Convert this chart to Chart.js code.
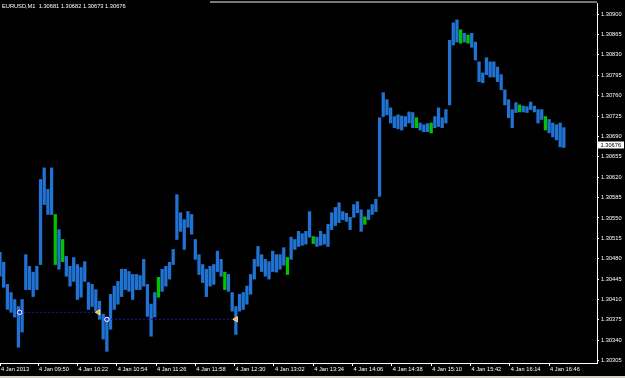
<!DOCTYPE html>
<html>
<head>
<meta charset="utf-8">
<script src="https://cdn.jsdelivr.net/npm/chart.js@4.4.1/dist/chart.umd.min.js"></script>
<style>
html, body { margin: 0; padding: 0; background: #000; }
#wrap { width: 625px; height: 378px; position: relative; }
</style>
</head>
<body>
<div id="wrap"><canvas id="chart" width="625" height="378"></canvas></div>
<script>
const SYMBOL = 'EURUSD,M1';
const lastOHLC = [1.30681, 1.30682, 1.30673, 1.30676];
const FONT = '"Liberation Sans", Arial, sans-serif';

// minutes after 09:00 of the first bar, one bar every 3 minutes
const START_MIN = 19;
const BAR_STEP = 3;

const highs = [
    1.30491,1.30474,1.30436,1.30422,1.30410,1.30398,1.30410,1.30487,1.30467,1.30457,
    1.30467,1.30616,1.30636,1.30599,1.30636,1.30556,1.30530,1.30513,1.30484,1.30467,
    1.30482,1.30470,1.30465,1.30475,1.30439,1.30436,1.30427,1.30407,1.30385,1.30376,
    1.30419,1.30433,1.30441,1.30462,1.30462,1.30458,1.30453,1.30453,1.30451,1.30479,
    1.30436,1.30402,1.30422,1.30448,1.30462,1.30467,1.30474,1.30496,1.30590,1.30559,
    1.30547,1.30561,1.30556,1.30513,1.30487,1.30470,1.30462,1.30467,1.30470,1.30493,
    1.30479,1.30457,1.30453,1.30422,1.30398,1.30419,1.30422,1.30433,1.30453,1.30479,
    1.30501,1.30487,1.30479,1.30475,1.30493,1.30487,1.30487,1.30499,1.30482,1.30517,
    1.30513,1.30527,1.30523,1.30527,1.30561,1.30518,1.30517,1.30527,1.30522,1.30539,
    1.30559,1.30568,1.30576,1.30561,1.30558,1.30551,1.30573,1.30578,1.30564,1.30552,
    1.30564,1.30573,1.30582,1.30722,1.30765,1.30753,1.30739,1.30724,1.30727,1.30725,
    1.30724,1.30732,1.30731,1.30722,1.30713,1.30710,1.30712,1.30713,1.30724,1.30739,
    1.30722,1.30736,1.30855,1.30885,1.30890,1.30873,1.30867,1.30864,1.30867,1.30852,
    1.30818,1.30799,1.30825,1.30818,1.30818,1.30809,1.30796,1.30770,1.30753,1.30736,
    1.30748,1.30744,1.30742,1.30741,1.30749,1.30742,1.30736,1.30736,1.30724,1.30719,
    1.30713,1.30710,1.30713,1.30705
];
const lows = [
    1.30450,1.30431,1.30393,1.30388,1.30380,1.30328,1.30354,1.30427,1.30427,1.30415,
    1.30427,1.30470,1.30573,1.30556,1.30556,1.30470,1.30462,1.30475,1.30450,1.30433,
    1.30441,1.30410,1.30414,1.30441,1.30393,1.30398,1.30390,1.30376,1.30342,1.30321,
    1.30359,1.30393,1.30402,1.30415,1.30427,1.30424,1.30410,1.30427,1.30427,1.30433,
    1.30381,1.30347,1.30380,1.30414,1.30424,1.30433,1.30445,1.30470,1.30513,1.30527,
    1.30496,1.30534,1.30522,1.30479,1.30453,1.30439,1.30415,1.30433,1.30436,1.30458,
    1.30450,1.30427,1.30424,1.30390,1.30350,1.30390,1.30393,1.30402,1.30419,1.30445,
    1.30467,1.30458,1.30450,1.30445,1.30458,1.30457,1.30462,1.30469,1.30453,1.30479,
    1.30496,1.30501,1.30503,1.30505,1.30517,1.30506,1.30501,1.30503,1.30505,1.30501,
    1.30530,1.30537,1.30542,1.30547,1.30544,1.30530,1.30551,1.30559,1.30527,1.30539,
    1.30547,1.30556,1.30561,1.30587,1.30724,1.30727,1.30713,1.30705,1.30703,1.30701,
    1.30707,1.30713,1.30705,1.30705,1.30701,1.30698,1.30698,1.30696,1.30705,1.30707,
    1.30705,1.30713,1.30744,1.30847,1.30852,1.30850,1.30852,1.30850,1.30843,1.30821,
    1.30784,1.30782,1.30796,1.30792,1.30792,1.30784,1.30770,1.30744,1.30722,1.30705,
    1.30731,1.30732,1.30732,1.30731,1.30736,1.30732,1.30713,1.30719,1.30701,1.30696,
    1.30689,1.30684,1.30672,1.30671
];
const greenBars = [15, 17, 43, 61, 78, 85, 99, 113, 117, 125, 127, 141, 148];

// x axis: minutes after 09:00
const timeTicks = [19, 50, 82, 114, 146, 178, 210, 242, 274, 306, 338, 370, 402, 434, 466];
const timeLabels = ['4 Jan 2013', '4 Jan 09:50', '4 Jan 10:22', '4 Jan 10:54', '4 Jan 11:26',
    '4 Jan 11:58', '4 Jan 12:30', '4 Jan 13:02', '4 Jan 13:34', '4 Jan 14:06', '4 Jan 14:38',
    '4 Jan 15:10', '4 Jan 15:42', '4 Jan 16:14', '4 Jan 16:46'];
const priceTicks = [1.30305, 1.30340, 1.30375, 1.30410, 1.30445, 1.30480, 1.30515, 1.30550, 1.30585,
    1.30620, 1.30655, 1.30690, 1.30725, 1.30760, 1.30795, 1.30830, 1.30865, 1.30900];

// trade history lines
const tradeOpen = [35, 106];
const tradeClose = [99, 211];
const tradePrice = [1.30388, 1.30376];

var barData = highs.map((h, i) => ({x: START_MIN + BAR_STEP * i, y: [lows[i], h]}));
var barColors = highs.map((h, i) => greenBars.includes(i) ? '#00c400' : '#2173d3');

var datasets = [{
    type: 'bar',
    data: barData,
    backgroundColor: barColors,
    borderWidth: 0,
    barThickness: 2.6,
    order: 2
}];
for(var i = 0; i < tradeOpen.length; i++) {
    datasets.push({
        type: 'line',
        data: [{x: tradeOpen[i], y: tradePrice[i]}, {x: tradeClose[i], y: tradePrice[i]}],
        borderColor: '#1c1cb0',
        borderWidth: 1,
        borderDash: [2, 2],
        pointStyle: ['circle', 'triangle'],
        rotation: [0, -90],
        pointRadius: [2.2, 3],
        pointBackgroundColor: ['#3030e0', '#ffb020'],
        pointBorderColor: ['#ffffff', '#ffe090'],
        pointBorderWidth: 1,
        order: 1
    });
}

// header text, current price box, window lines
const decorPlugin = {
    id: 'decor',
    afterDraw(chart) {
        var ctx = chart.ctx;
        var area = chart.chartArea;
        var y = chart.scales.y.getPixelForValue(lastOHLC[3]);
        ctx.save();
        ctx.fillStyle = '#ffffff';
        ctx.fillRect(598, Math.round(y) - 3.5, 26, 7);
        ctx.fillStyle = '#000000';
        ctx.font = `5.7px ${FONT}`;
        ctx.textBaseline = 'middle';
        ctx.textAlign = 'left';
        ctx.fillText(lastOHLC[3].toFixed(5), 600.5, Math.round(y));
        ctx.fillStyle = '#ffffff';
        ctx.fillText(`${SYMBOL}  ${lastOHLC.map(v => v.toFixed(5)).join(' ')}`, 2, 6.5);
        ctx.fillStyle = '#787878';
        ctx.fillRect(210, 1, area.right - 210, 2);
        ctx.fillStyle = '#d4d0c8';
        ctx.fillRect(0, 376, 625, 2);
        ctx.restore();
    }
};

new Chart(document.getElementById('chart'), {
    type: 'bar',
    data: {datasets: datasets},
    plugins: [decorPlugin],
    options: {
        responsive: false,
        animation: false,
        devicePixelRatio: 1,
        layout: {autoPadding: false, padding: {top: 3, left: 0, right: 0, bottom: 0}},
        plugins: {legend: {display: false}, tooltip: {enabled: false}},
        scales: {
            x: {
                type: 'linear',
                position: 'bottom',
                offset: false,
                min: 19,
                max: 505,
                afterBuildTicks: (scale) => { scale.ticks = timeTicks.map(v => ({value: v})); },
                afterFit: (scale) => { scale.height = 15; scale.paddingLeft = 0; scale.paddingRight = 0; },
                grid: {display: true, offset: false, drawOnChartArea: false, drawTicks: true, tickLength: 3, color: '#ffffff'},
                border: {display: true, color: '#ffffff', width: 1},
                ticks: {
                    autoSkip: false,
                    maxRotation: 0,
                    align: 'start',
                    padding: 0,
                    labelOffset: 1,
                    color: '#ffffff',
                    font: {family: FONT, size: 5.7},
                    callback: (val, idx) => timeLabels[idx]
                }
            },
            y: {
                type: 'linear',
                position: 'right',
                min: 1.30301,
                max: 1.30919,
                afterBuildTicks: (scale) => { scale.ticks = priceTicks.map(v => ({value: v})); },
                afterFit: (scale) => { scale.width = 28; scale.paddingTop = 0; scale.paddingBottom = 0; },
                grid: {display: true, drawOnChartArea: false, drawTicks: true, tickLength: 2, color: '#ffffff'},
                border: {display: true, color: '#ffffff', width: 1},
                ticks: {
                    padding: 2,
                    color: '#ffffff',
                    font: {family: FONT, size: 5.7},
                    callback: (val) => val.toFixed(5)
                }
            }
        }
    }
});
</script>
</body>
</html>
